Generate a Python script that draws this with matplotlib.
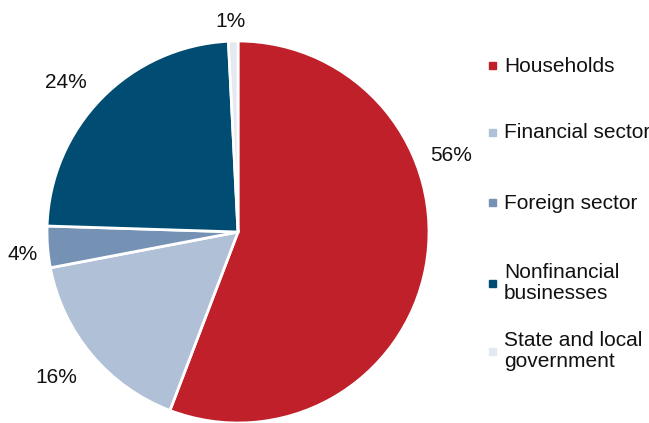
import matplotlib.pyplot as plt
from matplotlib.patches import Rectangle

plt.rcParams['font.family'] = ['Liberation Sans', 'DejaVu Sans']

sectors = ['Households', 'Financial sector', 'Foreign sector',
           'Nonfinancial\nbusinesses', 'State and local\ngovernment']
shares = [55.8, 16.2, 3.5, 23.7, 0.8]
pct_labels = ['56%', '16%', '4%', '24%', '1%']
colors = ['#C0202A', '#B0C0D6', '#7592B5', '#004C72', '#E4E8F0']

# where the data labels sit (pie radius = 1), like Excel's best-fit placement
label_xy = [(1.115, 0.40), (-0.953, -0.762), (-1.126, -0.118),
            (-0.903, 0.783), (-0.037, 1.102)]

fig = plt.figure(figsize=(6.49, 4.23), dpi=100)
ax = fig.add_axes([238/649 - 191/649, 1 - (232 + 191)/423, 382/649, 382/423])

wedges, texts = ax.pie(shares, colors=colors, startangle=90, counterclock=False,
                       labels=pct_labels,
                       wedgeprops=dict(edgecolor='white', linewidth=2))
for t, pos in zip(texts, label_xy):
    t.set_position(pos)
    t.set_fontsize(15)
    t.set_color('#111111')
    t.set_ha('center')
    t.set_va('center')
    t.set_clip_on(False)
ax.set_aspect('equal')
ax.set_xlim(-1, 1)
ax.set_ylim(-1, 1)

# legend drawn by hand to match uneven spacing
leg_y = [66, 133, 203, 283, 351]
for name, col, y in zip(sectors, colors, leg_y):
    yf = 1 - y / 423
    fig.patches.append(Rectangle((489/649, yf - 3.5/423), 7/649, 7/423,
                                 transform=fig.transFigure, color=col))
    fig.text(504/649, yf, name, fontsize=15, va='center', ha='left',
             color='#111111', linespacing=1.1)

fig.savefig('out.png', dpi=100)
